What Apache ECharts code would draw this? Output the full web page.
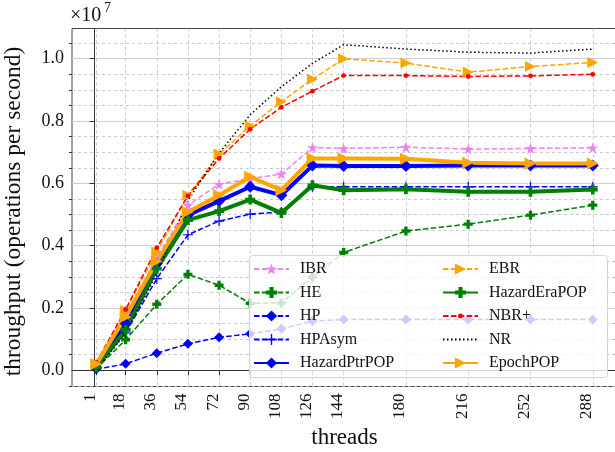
<!DOCTYPE html>
<html><head><meta charset="utf-8">
<script src="https://cdn.jsdelivr.net/npm/echarts@6/dist/echarts.min.js"></script>
<style>html,body{margin:0;padding:0;background:#fff}#c{width:615px;height:452px}</style>
</head><body><div id="c"></div>
<script>
// ---- data (throughput in units of 1e7 ops/s) ----
const threads = [1, 18, 36, 54, 72, 90, 108, 126, 144, 180, 216, 252, 288];
const IBR          = [0.015, 0.180, 0.360, 0.530, 0.597, 0.615, 0.630, 0.715, 0.712, 0.716, 0.710, 0.712, 0.714];
const HE           = [0.005, 0.098, 0.212, 0.308, 0.273, 0.215, 0.216, 0.299, 0.378, 0.447, 0.469, 0.498, 0.530];
const HP           = [0.003, 0.021, 0.055, 0.085, 0.106, 0.117, 0.133, 0.158, 0.163, 0.163, 0.163, 0.163, 0.163];
const HPAsym       = [0.005, 0.120, 0.294, 0.435, 0.479, 0.501, 0.508, 0.589, 0.589, 0.589, 0.589, 0.589, 0.589];
const HazardPtrPOP = [0.010, 0.150, 0.342, 0.498, 0.543, 0.589, 0.562, 0.657, 0.656, 0.656, 0.657, 0.657, 0.657];
const EBR          = [0.020, 0.192, 0.380, 0.562, 0.694, 0.784, 0.862, 0.934, 1.000, 0.986, 0.957, 0.975, 0.988];
const HazardEraPOP = [0.010, 0.130, 0.326, 0.482, 0.511, 0.548, 0.505, 0.594, 0.578, 0.581, 0.573, 0.573, 0.580];
const NBRplus      = [0.025, 0.195, 0.393, 0.560, 0.680, 0.774, 0.844, 0.896, 0.946, 0.946, 0.943, 0.945, 0.950];
const NR           = [0.000, 0.120, 0.310, 0.545, 0.697, 0.820, 0.910, 0.985, 1.045, 1.031, 1.021, 1.018, 1.031];
const EpochPOP     = [0.020, 0.171, 0.350, 0.508, 0.562, 0.621, 0.578, 0.680, 0.680, 0.679, 0.666, 0.664, 0.664];
const yMajorTicks  = [0.0, 0.2, 0.4, 0.6, 0.8, 1.0];
const yMinorTicks  = [-0.05, 0.05, 0.1, 0.15, 0.25, 0.3, 0.35, 0.45, 0.5, 0.55, 0.65, 0.7, 0.75, 0.85, 0.9, 0.95, 1.05];
const legendCol1 = ['IBR', 'HE', 'HP', 'HPAsym', 'HazardPtrPOP'];
const legendCol2 = ['EBR', 'HazardEraPOP', 'NBR+', 'NR', 'EpochPOP'];

// ---- styling ----
const FONT = 'Liberation Serif';
const DASH = [5.5, 2.4];
const DOT = [1.5, 2.5];
const STAR = 'path://M0,-10 L2.35,-3.24 L9.51,-3.09 L3.8,1.24 L5.88,8.09 L0,4 L-5.88,8.09 L-3.8,1.24 L-9.51,-3.09 L-2.35,-3.24 Z';
const PFILL = 'path://M-1.1,-3 H1.1 V-1.1 H3 V1.1 H1.1 V3 H-1.1 V1.1 H-3 V-1.1 H-1.1 Z';
const PLUS = 'path://M-5,-0.6 H5 V0.6 H-5 Z M-0.6,-5 H0.6 V5 H-0.6 Z';
// small dot inside a larger (invisible) box so the legend icon stays small too
const DOTM = 'path://M-5,-5 M5,5 M-2.2,0 A2.2,2.2 0 1,1 2.2,0 A2.2,2.2 0 1,1 -2.2,0 Z';

function mk(name, vals, color, width, type, symbol, size, rot) {
  return {
    name: name, type: 'line', yAxisIndex: 0,
    data: threads.map((t, i) => [t, vals[i]]),
    symbol: symbol, symbolSize: size, symbolRotate: rot || 0,
    showSymbol: symbol !== 'none',
    lineStyle: { color: color, width: width, type: type },
    itemStyle: { color: color, borderColor: color, borderWidth: 0 },
    emphasis: { disabled: true }
  };
}

const series = [
  mk('IBR', IBR, '#EE82EE', 1.5, DASH, STAR, 11),
  mk('HE', HE, '#008000', 1.5, DASH, PFILL, 9),
  mk('HP', HP, '#0000FF', 1.5, DASH, 'diamond', 10),
  mk('HPAsym', HPAsym, '#0000FF', 1.5, DASH, PLUS, 10),
  mk('HazardPtrPOP', HazardPtrPOP, '#0000FF', 4, 'solid', 'diamond', 12),
  mk('EBR', EBR, '#FFA500', 1.5, DASH, 'triangle', 11, -90),
  mk('HazardEraPOP', HazardEraPOP, '#008000', 4, 'solid', PFILL, 10),
  mk('NBR+', NBRplus, '#FF0000', 1.5, DASH, DOTM, 11),
  mk('NR', NR, '#000000', 1.5, DOT, 'none', 0),
  mk('EpochPOP', EpochPOP, '#FFA500', 4, 'solid', 'triangle', 12, -90)
];

function legendData(names) {
  return names.map(n => n === 'NR' ? { name: n, itemStyle: { opacity: 0 } } : { name: n });
}

const legendBase = {
  orient: 'vertical', top: 261, itemWidth: 35, itemHeight: 14, itemGap: 7.5,
  textStyle: { fontFamily: FONT, fontSize: 16, color: '#111', lineHeight: 16, padding: [0, 0, 0, 6] },
  z: 100, selectedMode: false, padding: 0
};

const chart = echarts.init(document.getElementById('c'), null, { renderer: 'canvas' });
chart.setOption({
  animation: false,
  backgroundColor: '#fff',
  textStyle: { fontFamily: FONT },
  grid: { left: 72, right: -2, top: 28.5, bottom: 65.5, show: true, borderColor: '#444', borderWidth: 1,
          containLabel: false, outerBoundsMode: 'none' },
  xAxis: {
    type: 'value', min: -13, max: 302,
    axisLine: { show: true, lineStyle: { color: '#333', width: 1 } },
    axisTick: { show: true, customValues: threads, length: 5, lineStyle: { color: '#333' } },
    axisLabel: { customValues: threads, rotate: 90, fontFamily: FONT, fontSize: 17, color: '#111', margin: 7,
                 verticalAlign: 'bottom', lineHeight: 12 },
    splitLine: { show: true, lineStyle: { type: [3, 3], color: '#bcbcbc', width: 0.8 } },
    name: 'threads', nameLocation: 'middle', nameGap: 37,
    nameTextStyle: { fontFamily: FONT, fontSize: 23, color: '#111' }
  },
  yAxis: [
    {
      type: 'value', min: -0.052, max: 1.097,
      axisLine: { show: true, lineStyle: { color: '#333', width: 1 } },
      axisTick: { show: true, customValues: yMajorTicks, length: 5, lineStyle: { color: '#333' } },
      axisLabel: { customValues: yMajorTicks, formatter: v => v.toFixed(1), fontFamily: FONT, fontSize: 18, color: '#111', margin: 8 },
      splitLine: { show: true, lineStyle: { type: 'solid', color: '#cfcfcf', width: 1.2 } },
      name: 'throughput (operations per second)', nameLocation: 'middle', nameGap: 46,
      nameTextStyle: { fontFamily: FONT, fontSize: 23.5, color: '#111', padding: [0, 8, 0, 0] }
    },
    {
      type: 'value', min: -0.052, max: 1.097, position: 'left',
      axisLine: { show: false },
      axisTick: { show: true, customValues: yMinorTicks, length: 3, lineStyle: { color: '#333' } },
      axisLabel: { show: false },
      splitLine: { show: true, lineStyle: { type: [3, 3], color: '#bcbcbc', width: 0.8 } }
    }
  ],
  legend: [
    Object.assign({}, legendBase, { left: 253, data: legendData(legendCol1) }),
    Object.assign({}, legendBase, { left: 442, data: legendData(legendCol2) })
  ],
  graphic: [
    { type: 'rect', z: 50, shape: { x: 249.5, y: 255.5, width: 358, height: 122, r: 3 },
      style: { fill: 'rgba(255,255,255,0.8)', stroke: '#d4d4d4', lineWidth: 1 } },
    { type: 'text', z: 50, left: 70, top: 6, style: { text: '×10', fontFamily: FONT, fontSize: 20, fill: '#111' } },
    { type: 'text', z: 50, left: 104, top: 1, style: { text: '7', fontFamily: FONT, fontSize: 14, fill: '#111' } }
  ],
  series: series
});
</script></body></html>
